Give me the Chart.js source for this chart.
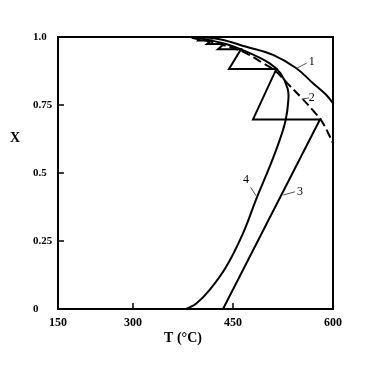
<!DOCTYPE html>
<html>
<head>
<meta charset="utf-8">
<script src="https://cdn.jsdelivr.net/npm/chart.js@4.4.1/dist/chart.umd.min.js"></script>
<style>
  html, body { margin: 0; padding: 0; background: #fff; }
  #wrap { width: 366px; height: 368px; position: relative; }
</style>
</head>
<body>
<div id="wrap"><canvas id="chart"></canvas></div>
<script>
// axis ticks (the first x tick sits on the left frame and is labelled 150)
const xTickValues = [187.5, 300, 450, 600];
const xTickLabels = ["150", "300", "450", "600"];
const yTickValues = [0, 0.25, 0.5, 0.75, 1.0];
const yTickLabels = ["0", "0.25", "0.5", "0.75", "1.0"];

// curve 1 (solid, outer)
const curve1T = [390, 430, 470, 510, 545, 570, 590, 600];
const curve1X = [1.0, 0.992, 0.964, 0.934, 0.885, 0.830, 0.787, 0.756];

// curve 2 (dashed)
const curve2T = [388, 418, 445, 470, 492, 513, 533, 553, 570, 584, 600];
const curve2X = [0.997, 0.982, 0.963, 0.94, 0.908, 0.876, 0.826, 0.776, 0.73, 0.687, 0.61];

// curve 3 (adiabatic steps)
const curve3T = [435, 580.5, 480, 515, 444, 462, 427.5, 436.5, 411, 417, 397.5, 400];
const curve3X = [0, 0.697, 0.697, 0.882, 0.882, 0.955, 0.955, 0.974, 0.974, 0.987, 0.987, 0.995];

// curve 4
const curve4T = [380, 395, 415, 440, 465, 485, 505, 520, 529, 533, 532, 521, 505, 470, 435, 390];
const curve4X = [0, 0.02, 0.07, 0.156, 0.278, 0.405, 0.523, 0.621, 0.695, 0.768, 0.81, 0.867, 0.903, 0.946, 0.977, 1.0];

// curve numbers and their leader lines
const curveNames = ["1", "2", "3", "4"];
const nameT = [568, 568, 550.5, 469.5];
const nameX = [0.907, 0.775, 0.431, 0.474];
const leaderFromT = [545.5, 553, 525.5, 485.5];
const leaderFromX = [0.885, 0.772, 0.419, 0.413];
const leaderToT = [560.5, 564, 543, 476.5];
const leaderToX = [0.904, 0.776, 0.431, 0.447];

function toPoints(ts, xs) {
  return ts.map((t, i) => ({ x: t, y: xs[i] }));
}

const serif = '"Liberation Serif", "DejaVu Serif", serif';

const framePlugin = {
  id: "frame",
  afterDatasetsDraw(chart) {
    const { ctx, chartArea: a, scales } = chart;
    const xs = scales.x, ys = scales.y;
    ctx.save();
    ctx.strokeStyle = "#000";
    ctx.lineWidth = 2;
    ctx.strokeRect(a.left, a.top, a.right - a.left, a.bottom - a.top);

    // inward tick marks
    ctx.lineWidth = 1.5;
    ctx.beginPath();
    xTickValues.slice(1, -1).forEach((v) => {
      const px = xs.getPixelForValue(v);
      ctx.moveTo(px, a.bottom);
      ctx.lineTo(px, a.bottom - 6);
    });
    yTickValues.slice(1, -1).forEach((v) => {
      const py = ys.getPixelForValue(v);
      ctx.moveTo(a.left, py);
      ctx.lineTo(a.left + 6, py);
    });
    ctx.stroke();

    // leader lines and curve numbers
    ctx.strokeStyle = "#555";
    ctx.lineWidth = 1;
    ctx.beginPath();
    curveNames.forEach((n, i) => {
      ctx.moveTo(xs.getPixelForValue(leaderFromT[i]), ys.getPixelForValue(leaderFromX[i]));
      ctx.lineTo(xs.getPixelForValue(leaderToT[i]), ys.getPixelForValue(leaderToX[i]));
    });
    ctx.stroke();
    ctx.fillStyle = "#000";
    ctx.font = "12px " + serif;
    ctx.textAlign = "center";
    ctx.textBaseline = "middle";
    curveNames.forEach((n, i) => {
      ctx.fillText(n, xs.getPixelForValue(nameT[i]), ys.getPixelForValue(nameX[i]));
    });

    // axis titles
    ctx.font = "bold 14px " + serif;
    ctx.fillText("T (°C)", 183, 338);
    ctx.fillText("X", 15, 138);
    ctx.restore();
  },
};

const lineStyle = {
  showLine: true,
  borderColor: "#000",
  borderWidth: 2,
  pointRadius: 0,
  fill: false,
};

new Chart(document.getElementById("chart"), {
  type: "scatter",
  data: {
    datasets: [
      { ...lineStyle, data: toPoints(curve1T, curve1X), tension: 0.4 },
      { ...lineStyle, data: toPoints(curve2T, curve2X), tension: 0.4, borderDash: [9, 4] },
      { ...lineStyle, data: toPoints(curve3T, curve3X), tension: 0 },
      { ...lineStyle, data: toPoints(curve4T, curve4X), tension: 0.4 },
    ],
  },
  options: {
    responsive: true,
    maintainAspectRatio: false,
    animation: false,
    layout: { padding: { left: 33, right: 33, top: 37, bottom: 0 } },
    plugins: {
      legend: { display: false },
      tooltip: { enabled: false },
    },
    scales: {
      x: {
        type: "linear",
        min: 187.5,
        max: 600,
        afterBuildTicks: (axis) => {
          axis.ticks = xTickValues.map((v) => ({ value: v }));
        },
        afterFit: (axis) => {
          axis.height = 59;
        },
        grid: { display: false },
        border: { display: false },
        ticks: {
          color: "#000",
          font: { family: serif, size: 12, weight: "bold" },
          padding: -1,
          maxRotation: 0,
          autoSkip: false,
          callback: (v, i) => xTickLabels[i],
        },
      },
      y: {
        type: "linear",
        min: 0,
        max: 1,
        afterBuildTicks: (axis) => {
          axis.ticks = yTickValues.map((v) => ({ value: v }));
        },
        afterFit: (axis) => {
          axis.width = 25;
        },
        grid: { display: false },
        border: { display: false },
        ticks: {
          color: "#000",
          font: { family: serif, size: 11, weight: "bold" },
          crossAlign: "far",
          autoSkip: false,
          callback: (v, i) => yTickLabels[i],
        },
      },
    },
  },
  plugins: [framePlugin],
});
</script>
</body>
</html>
